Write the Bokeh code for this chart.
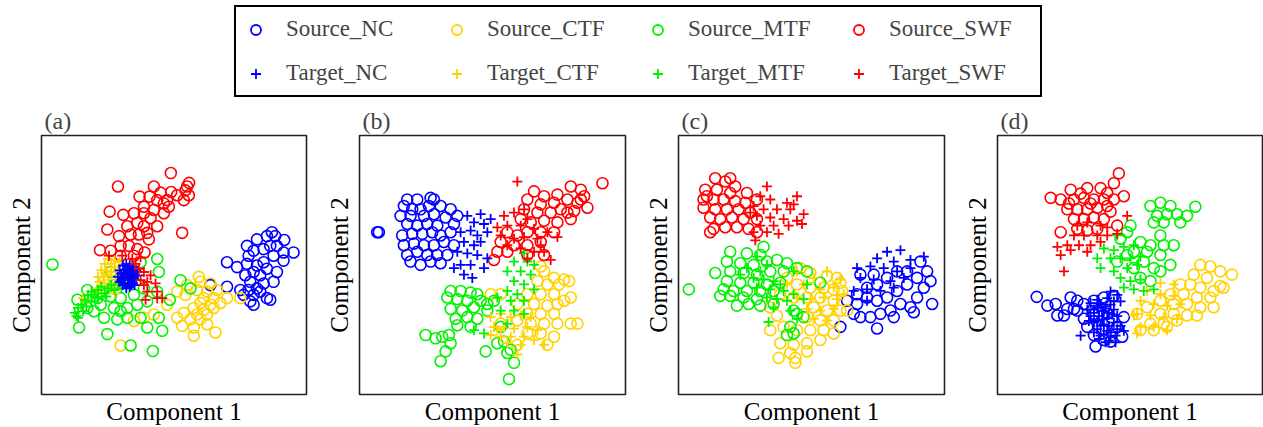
from bokeh.plotting import figure
from bokeh.layouts import column, row
from bokeh.models import Range1d, Legend, LegendItem, FixedTicker, ColumnDataSource
from bokeh.embed import file_html
from bokeh.resources import INLINE

FONT = "Liberation Serif"
CLASSES = ["NC", "CTF", "MTF", "SWF"]
COLORS = {"NC": "#0000FF", "CTF": "#FFD200", "MTF": "#00F200", "SWF": "#FF0000"}
PANEL_LABELS = ["(a)", "(b)", "(c)", "(d)"]
X_LABEL = "Component 1"
Y_LABEL = "Component 2"

# ---------------- panel (a) ----------------
A_SRC_NC = [(69.3,49.7),(67.8,48.5),(70.3,48.5),(64.8,47.5),(73,47.3),(61.8,45.5),(68.8,45.5),(70.8,45.5),
            (75.8,43.5),(72.8,43.5),(66.8,44.5),(63.8,44),(62.3,42.5),(69.8,42.5),(72.8,41),(66.8,40.5),
            (55.8,40.5),(58.8,39),(61.8,40),(64.8,39.5),(67.8,38.5),(70.8,37.5),(63.8,37.5),(61.3,36.5),
            (65.8,36.5),(69.8,34.5),(62.8,34.5),(66.8,34),(64.8,32.5),(55.8,33),(59.8,32),(62.3,32),
            (63.8,30.5),(67.8,29.5),(68.8,29),(62.8,28.5),(63.8,27.5),(65.8,31.5),(50.8,33.5),(60.8,30.5)]
A_SRC_CTF = [(47.3,36),(47.8,34.5),(50.8,34),(43.8,33.5),(40.8,31.5),(46.8,32),(49.8,31.5),(52.8,32),
             (43.3,30.5),(48.8,29.5),(51.8,29.5),(55.8,29.5),(59.8,29.5),(37.8,27.5),(47.8,28),(50.8,27.5),
             (53.8,28),(45.8,26.5),(48.8,26),(51.8,26.5),(42.8,25),(46.8,24.5),(49.8,24.5),(40.8,23.5),
             (44.8,23),(47.8,23),(42.3,21),(45.8,20.5),(49.8,21.5),(52.3,19),(45.8,18),(23.8,15),
             (27.8,22.5),(30.8,23.5),(33.8,24.5)]
A_SRC_MTF = [(3.3,39.8),(34.8,41.5),(35.3,37.5),(41.8,35),(44.8,32.5),(38.6,29),(10.8,29),(13.8,32),
             (16.8,29.5),(17.8,27.5),(21.8,26.5),(25.8,26.5),(28.8,27.5),(31.8,28.5),(15.8,25.5),(18.8,23.5),
             (22.8,23),(25.8,23.5),(29.8,23.5),(35.3,23.5),(31.8,20.5),(36.3,19.5),(11.3,20.5),(19.8,18.5),
             (26.8,15),(33.5,13.3),(17.8,31.5),(20.8,30),(23.8,29.5),(27.8,30.5),(30.8,32.5),(13.8,26.5),
             (23.8,25.5),(21.8,33.5),(29.8,40.5),(20.8,37.5),(34.8,31.5)]
A_SRC_SWF = [(38.9,67.8),(44.4,64.8),(43.8,63.7),(23,63.7),(33.8,63.7),(29.5,60.6),(32.5,60.6),(35.8,61.8),
             (39,62),(40.8,61),(43.3,62.5),(44.3,61),(37.8,59.5),(36.8,58.5),(34.8,59.5),(30.8,57.5),
             (42.8,59.5),(20.5,56),(24.6,55),(27.8,55.5),(30.8,55.5),(33.8,56.5),(36.8,55.5),(38.3,57.5),
             (32.8,54),(28.8,52.5),(25.8,51.5),(19.8,50.5),(30.8,51.5),(34.8,51.5),(23.3,48.5),(26.8,49),
             (29.3,49),(31.8,49.5),(42.3,49.5),(32.3,47.5),(23.8,45.5),(26.3,45.5),(17.6,44.2),(20.8,44),
             (28.8,44.5),(31,43.5),(23.8,42.5),(27.8,42.5)]
A_TGT_NC = [(23.5,38),(24.5,39.5),(25.5,40),(26.5,39.5),(27.5,39),(28.5,38),(29,36.5),(28.5,35),
            (27.5,34),(26.5,33),(25.5,32.5),(24.5,33.5),(23.5,34.5),(23,36),(24,37),(25,38),
            (26,37.5),(27,37),(28,36.5),(27,35.5),(26,35),(25,35.5),(24.5,36),(25.5,36.5),
            (26.5,36),(27.5,36),(26,34),(25,34),(27,33.5),(28,33.5),(24,35),(26,38.5),
            (27.5,38),(25,37),(26.5,37)]
A_TGT_CTF = [(17,36),(18,38),(19,40),(20,41.5),(21,40),(22,39),(23,38),(22.5,36),(21,35),(20,36.5),
             (19,34),(18,32),(20,33),(21.5,32.5),(23,33.5),(22,41),(19.5,38),(21,37.5),(17.5,34.5),
             (23.5,40.5),(18.5,36),(22,31),(16.8,32.5),(12.5,29.5)]
A_TGT_MTF = [(10,25),(11,26.5),(12,27.5),(10.5,24),(13,29),(14,30.5),(15,31.5),(16,30),(17,32),(18,33),
             (19,31),(20,32.5),(21,33.5),(22,32),(15,28.5),(17,29.5),(12.5,25.5),(13.5,27),(19.5,30),
             (23,34),(24,32.5),(25.5,33),(11,23.5)]
A_TGT_SWF = [(20.3,42.5),(24.3,42.5),(27.3,41.5),(29.8,42),(28.3,40),(30.8,37.5),(29.8,35),(31.8,34.5),
             (34.3,34),(30.8,33.5),(34.8,31.5),(36.3,29.5),(31.8,31.5),(34.8,29.5),(31.3,29),(32.8,36.5),
             (29.3,38.5)]

# ---------------- panel (b) ----------------
B_SRC_NC = [(14.3,59.7),(17.3,59.7),(21.3,60.2),(22.3,59.7),(13.3,57.7),(15.8,56.7),(18.3,56.7),(20.8,57.7),
            (24.3,57.7),(27.3,56.7),(29.3,54.7),(12.3,54.7),(15.3,54.7),(19.3,54.7),(22.3,55.2),(25.8,54.2),
            (14.3,52.2),(17.3,51.7),(20.3,52.2),(23.3,51.7),(28.3,52.2),(12.8,48.7),(15.8,49.2),(18.8,49.2),
            (21.8,49.7),(24.3,48.7),(27.3,49.7),(13.3,45.7),(16.3,46.2),(19.3,45.7),(22.3,45.7),(25.3,46.7),
            (28.3,45.7),(14.3,42.7),(17.3,43.7),(20.3,42.7),(23.3,42.7),(26.3,42.7),(15.3,40.7),(18.3,39.7),
            (21.3,40.7),(24.3,40.2),(5.3,49.7),(5.8,49.7)]
B_SRC_CTF = [(54.3,39.2),(55.3,37.7),(58.3,35.7),(61.3,35.2),(62.8,34.7),(53.3,34.7),(56.3,33.7),(59.8,33.7),
             (63.3,29.7),(39.3,30.7),(42.3,30.7),(50.3,30.7),(54.3,30.7),(58.3,30.7),(61.3,28.7),(47.3,27.7),
             (52.3,27.7),(56.3,27.2),(59.3,27.7),(50.3,24.7),(54.3,24.7),(58.3,24.7),(47.3,22.7),(51.3,21.7),
             (55.3,21.7),(59.3,21.7),(63.3,21.7),(65.3,21.7),(50.3,18.7),(54.3,18.7),(58.3,17.7),(56.3,15.2),
             (47.3,15.2),(42.3,21.7)]
B_SRC_MTF = [(27.3,31.7),(30.3,31.7),(33.3,31.2),(35.3,30.7),(26.3,29.7),(29.3,29.2),(32.3,28.7),(36.3,28.7),
             (38.3,27.7),(27.3,26.2),(30.8,25.7),(34.3,26.7),(38.3,25.7),(28.8,23.2),(32.3,23.7),(35.3,23.2),
             (29.3,21.2),(33.3,20.7),(19.8,18.2),(22.8,17.2),(24.8,17.7),(26.8,18.2),(27.3,15.7),(25.8,13.2),
             (24.3,10.2),(37.8,13.2),(43.3,16.2),(45.3,13.7),(44.3,12.7),(46.3,9.7),(44.8,4.7),(41.3,15.7),
             (40.3,28.7),(42.3,20.7)]
B_SRC_SWF = [(72.8,64.7),(52.3,62.2),(55.3,60.7),(59.3,61.2),(63.3,63.7),(66.3,62.7),(67.3,60.7),(50.3,59.7),
             (54.3,58.2),(58.3,58.7),(62.3,59.7),(65.3,58.7),(68.3,57.2),(49.3,56.7),(53.3,55.7),(57.3,55.7),
             (60.3,56.7),(64.3,56.2),(48.3,53.7),(51.3,52.7),(55.3,53.2),(59.3,52.7),(63.3,53.7),(44.3,49.7),
             (47.3,48.7),(50.3,49.7),(54.3,49.7),(58.3,49.7),(42.3,46.7),(46.3,45.7),(50.3,45.7),(54.3,46.7),
             (41.3,43.7),(44.3,43.7),(50.3,42.7),(55.3,42.7),(40.3,41.2),(66.3,59.7),(62.3,55.7)]
B_TGT_NC = [(32.3,54.7),(36.3,55.2),(39.3,53.7),(34.3,52.7),(37.3,52.2),(30.3,49.7),(33.3,50.2),(35.3,48.7),
            (38.3,49.7),(31.3,46.7),(34.3,45.7),(36.3,46.7),(29.3,43.7),(32.3,43.2),(35.3,42.7),(38.3,41.7),
            (30.3,39.7),(33.3,39.7),(37.3,38.7),(31.3,36.7),(33.8,35.7),(28.3,38.7)]
B_TGT_CTF = [(39.3,23.7),(42.3,24.7),(45.3,23.7),(48.3,24.2),(51.3,23.7),(40.3,20.7),(43.3,20.7),(46.3,20.2),
             (50.3,20.7),(53.3,19.7),(39.3,18.2),(42.3,17.7),(45.3,17.7),(49.3,17.7),(52.3,16.7),(55.3,15.2),
             (44.3,15.7),(48.3,15.2),(47.3,12.2),(41.3,19.7)]
B_TGT_MTF = [(49.3,43.2),(46.3,40.7),(50.3,40.7),(52.3,39.7),(44.3,37.7),(48.3,37.7),(51.3,36.7),(46.3,34.7),
             (49.3,33.7),(52.3,32.2),(44.3,31.7),(47.3,30.7),(41.3,29.7),(45.3,28.7),(49.3,28.7),(42.3,25.7),
             (46.3,25.7),(37.3,18.7),(34.3,19.7),(44.3,21.7),(49.3,24.7)]
B_TGT_SWF = [(47.3,65.2),(43.3,54.7),(46.3,55.7),(49.3,56.7),(50.3,53.7),(41.3,51.2),(44.3,51.7),(48.3,51.7),
             (52.3,50.7),(56.3,49.7),(59.3,48.2),(42.3,48.7),(46.3,47.7),(49.3,48.2),(53.3,47.7),(44.3,45.7),
             (48.3,44.7),(52.3,43.7),(55.3,43.7),(57.3,41.2),(50.3,41.7),(54.3,45.7)]

# ---------------- panel (c) ----------------
C_SRC_NC = [(72.5,40.7),(74.5,37.7),(75.5,34.7),(73.5,32.7),(71.5,29.7),(76,27.7),(69.5,26.7),(66.5,27.7),
            (63.5,25.7),(60.5,24.7),(57.5,23.7),(54.5,23.7),(52.5,24.7),(53.5,27.7),(56.5,29.7),(59.5,28.7),
            (62.5,29.7),(65.5,31.7),(68.5,33.7),(71.5,35.7),(68.5,37.7),(65.5,37.7),(62.5,35.7),(59.5,33.7),
            (56.5,32.7),(53.5,30.7),(50.5,28.7),(59.5,20.2),(48.5,20.7),(64.5,23.7),(70.5,25.2),(54.5,36.7),
            (58.5,36.7)]
C_SRC_CTF = [(36.5,38.7),(39.5,37.2),(44.5,36.2),(47.5,35.7),(48.5,34.2),(32.5,35.7),(35.5,33.7),(39.5,32.7),
             (43.5,32.7),(46.5,32.2),(49,31.7),(30.5,30.7),(34.5,29.7),(38.5,29.7),(42.5,29.7),(46.5,28.7),
             (40.5,26.7),(44.5,25.7),(48.5,25.7),(50.5,25.7),(27.5,26.7),(29.5,24.2),(38.5,23.7),(42.5,22.7),
             (46.5,22.7),(27.5,19.7),(31.5,20.7),(35.5,19.7),(39.5,19.7),(43.5,19.7),(30.5,15.7),(34.5,15.2),
             (38.5,15.7),(42.5,16.7),(46.5,18.7),(30,11.2),(35,11.2),(35,9.7),(38.5,13.2),(33.5,12.7)]
C_SRC_MTF = [(25.5,45.2),(15.5,43.7),(20.5,43.2),(24.5,42.7),(14.5,40.7),(18.5,40.2),(22.5,39.7),(26.5,40.7),
             (29.5,41.2),(32.5,40.2),(11,37.2),(15.5,37.7),(19.5,37.2),(23.5,36.7),(27.5,37.7),(31.5,37.7),
             (35.5,38.7),(38.5,37.7),(14.5,34.7),(18.5,34.2),(22.5,34.2),(26.5,33.7),(30.5,34.2),(3.1,32.2),
             (13.5,32.2),(16.5,31.7),(20.5,31.7),(24.5,31.7),(28.5,31.7),(12.5,30.2),(15.5,30.2),(19.5,29.7),
             (23.5,29.2),(17.5,27.2),(21,27.7),(24.5,27.2),(28.5,27.7),(34.5,25.7),(35.5,24.7),(33.5,20.7),
             (32.5,18.2),(34.5,18.7),(42.5,34.2),(37.5,23.7)]
C_SRC_SWF = [(11,66.2),(14,65.2),(17,63.7),(8,62.7),(11.5,62.7),(15.5,61.7),(20.5,61.7),(7.5,59.7),
             (10.5,59.7),(13.5,59.7),(17,59.2),(20,58.7),(23.5,59.7),(7.5,57.2),(11,56.7),(14.5,56.7),
             (18,56.7),(21.5,55.7),(9.5,54.2),(12.5,53.7),(16,54.2),(19.5,53.7),(23.5,53.7),(10.5,50.7),
             (14,51.2),(17.5,51.2),(21,50.7),(9.5,49.7),(23.5,49.7),(8.5,60.7),(15.5,66.2)]
C_TGT_NC = [(62.5,43.7),(66.5,44.2),(73.5,42.2),(59.5,41.7),(64.5,40.7),(69.5,41.2),(53.5,38.7),(57.5,39.2),
            (61.5,38.7),(65.5,37.7),(69.5,38.7),(54.5,35.7),(58.5,35.2),(63.5,34.7),(67.5,35.7),(52.5,31.7),
            (56.5,32.2),(60.5,31.7),(64.5,32.7),(56.5,28.7)]
C_TGT_CTF = [(35.5,37.7),(44.5,37.7),(40.5,35.7),(48.5,35.2),(37.5,33.7),(42.5,32.2),(46.5,32.7),(35.5,29.7),
             (39.5,29.2),(43.5,29.7),(47.5,29.2),(38.5,26.2),(42.5,25.7),(46.5,26.2),(40.5,23.2),(44.5,22.7),
             (32.5,33.7),(49.5,30.7)]
C_TGT_MTF = [(23.5,42.2),(26.5,39.7),(20.5,38.7),(24.5,37.7),(18.5,36.7),(22.5,35.7),(25.5,35.2),(28.5,34.7),
             (30.5,33.7),(23.5,32.7),(27.5,32.2),(31.5,31.7),(34.5,30.7),(26.5,29.7),(29.5,29.2),(32.5,28.7),
             (28.5,26.7),(33.5,25.7),(37.5,29.2),(38.5,33.7),(34.5,37.7),(27,22.2),(35.5,23.2)]
C_TGT_SWF = [(26.5,63.7),(35.5,60.7),(24.5,60.7),(27.5,59.7),(32.5,58.7),(22.5,57.7),(25.5,56.7),(29.5,56.7),
             (33.5,56.7),(37.5,55.2),(23.5,54.7),(27.5,54.2),(31.5,53.7),(35.5,53.2),(24.5,51.7),(28.5,51.7),
             (33,51.7),(37,52.2),(22.5,49.7),(26.5,49.7),(30,49.2),(23,47.2),(21.5,55.7),(34.5,58.2)]

# ---------------- panel (d) ----------------
D_SRC_NC = [(11.8,29.9),(15,27.2),(17.5,27.7),(22,29.7),(24,28.7),(18,24.2),(20,24.2),(23,26.2),
            (26,27.7),(29,28.7),(32,29.7),(35,30.2),(26,23.2),(29,24.7),(33,24.7),(38,23.7),
            (27,20.7),(36,20.7),(29,18.2),(32,16.7),(37.5,17.7),(34,16.2),(29.5,14.7),(24,25.7),(21,26.2)]
D_SRC_CTF = [(61,39.7),(64,39.2),(67,37.7),(70.5,36.7),(59,36.7),(63,35.7),(67,33.2),(58,33.7),
             (55,33.7),(61,32.7),(65,31.7),(68,32.7),(52,30.7),(56,30.7),(60,29.7),(64,29.7),
             (49,28.7),(53,27.7),(57,27.7),(61,26.7),(65,26.7),(45,26.7),(49,24.7),(53,24.7),
             (57,24.2),(60,24.2),(46,21.7),(50,21.7),(54,22.7),(43,19.7),(47,19.7),(51,20.7),(42,24.7)]
D_SRC_MTF = [(49,58.7),(46,57.7),(52,57.7),(59.5,57.5),(48,54.7),(51,55.2),(54,55.2),(57,54.7),
             (47,52.7),(50,52.7),(55,52.7),(40,51.7),(49,48.7),(39,49.7),(37,47.7),(43,46.7),
             (46,45.7),(50,45.7),(53,45.7),(41,43.7),(45,43.7),(49,42.7),(52,39.7),(39,42.7),
             (44,40.7),(47,38.7),(36,40.7),(41,38.7),(49,37.7),(43,35.7),(46,34.7)]
D_SRC_SWF = [(36.5,67.7),(35,64.7),(22,62.7),(27,63.2),(31,63.2),(33,61.7),(38,60.7),(16,60.2),
             (19,59.7),(23,59.7),(26,60.2),(29,59.7),(32,59.7),(35,59.7),(21,56.7),(24,56.7),
             (27,56.7),(30,57.2),(33,57.7),(23,53.7),(26,53.7),(29,54.2),(32,53.7),(19,49.7),
             (24,50.7),(27,50.2),(30,50.7),(36,51.7),(25,61.5),(34,56),(28,58.5),(21.5,58.5)]
D_TGT_NC = [(34,31.5),(36,30.5),(33,29.5),(30,29),(28,28),(31,27.5),(34,27.5),(37,28.5),(27,26),(29,26),
            (32,25.5),(35,26),(28,24),(30.5,24),(33,23.5),(36,24),(29,22),(32,21.5),(35,22),(30,20),
            (33,19.5),(36,20),(31,18),(34,17.5),(32.5,16),(35.5,16),(25,18),(37,21),(27.5,22.5),(30,26.5),
            (31.5,23),(33.5,25),(29,19),(38,19.5),(30.5,28),(32.5,27),(35,28.5),(29,25),(31.5,25.5),
            (34.5,24.5),(30,22.5),(33.5,21),(31,21),(34,19),(32,18.5),(30.5,17),(33.5,16.5),(35.5,18)]
D_TGT_CTF = [(49,34.2),(53,33.7),(45,31.7),(49,30.7),(53,30.2),(43,28.7),(47,27.7),(51,27.2),(55,27.7),
             (42,24.7),(46,24.2),(50,23.7),(54,23.2),(43,20.7),(47,20.7),(42,18.7),(51,19.7),(41,24.2)]
D_TGT_MTF = [(36,48.7),(32,44.7),(35,44.2),(38,45.2),(41,45.7),(30,41.7),(34,41.7),(37,41.7),(40,41.7),
             (43,42.2),(31,38.7),(35,37.7),(39,38.7),(42,39.7),(37,35.7),(40,34.7),(43,35.2),(41,32.2),
             (44,31.7),(47,32.2),(38,32.7)]
D_TGT_SWF = [(39,54.7),(24,51.7),(27,52.7),(31,51.7),(23,48.7),(26,48.7),(30,48.7),(33,48.7),(36,49.2),
             (21,45.7),(24.5,45.7),(28,45.7),(31,46.7),(18,45.2),(19,42.7),(22,44.2),(27,43.7),(20,37.7),
             (33,51.2)]

PANELS = [
    ({"NC": A_SRC_NC, "CTF": A_SRC_CTF, "MTF": A_SRC_MTF, "SWF": A_SRC_SWF},
     {"NC": A_TGT_NC, "CTF": A_TGT_CTF, "MTF": A_TGT_MTF, "SWF": A_TGT_SWF}),
    ({"NC": B_SRC_NC, "CTF": B_SRC_CTF, "MTF": B_SRC_MTF, "SWF": B_SRC_SWF},
     {"NC": B_TGT_NC, "CTF": B_TGT_CTF, "MTF": B_TGT_MTF, "SWF": B_TGT_SWF}),
    ({"NC": C_SRC_NC, "CTF": C_SRC_CTF, "MTF": C_SRC_MTF, "SWF": C_SRC_SWF},
     {"NC": C_TGT_NC, "CTF": C_TGT_CTF, "MTF": C_TGT_MTF, "SWF": C_TGT_SWF}),
    ({"NC": D_SRC_NC, "CTF": D_SRC_CTF, "MTF": D_SRC_MTF, "SWF": D_SRC_SWF},
     {"NC": D_TGT_NC, "CTF": D_TGT_CTF, "MTF": D_TGT_MTF, "SWF": D_TGT_SWF}),
]

CIRCLE_SIZE = 11
CROSS_SIZE = 10
TARGET_ORDER = ["CTF", "MTF", "NC", "SWF"]

# layout: (left border, frame width, right border)
GEOM = [(41, 265, 12), (41, 266, 12), (41, 266, 12), (41, 265, 1)]


def src_of(pts):
    return ColumnDataSource(data=dict(x=[p[0] for p in pts], y=[p[1] for p in pts]))


def make_panel(label, src, tgt, geom):
    lb, fw, rb = geom
    p = figure(width=lb + fw + rb, height=327, x_range=Range1d(0, 79.7), y_range=Range1d(0, 79.3),
               output_backend="svg", toolbar_location=None,
               min_border_left=lb, min_border_right=rb, min_border_top=35, min_border_bottom=29,
               title=label)
    p.grid.visible = False
    p.outline_line_color = "#222222"
    p.outline_line_width = 1.6
    p.background_fill_color = "white"
    p.border_fill_color = "white"
    p.title.text_font = FONT
    p.title.text_font_size = "24px"
    p.title.text_font_style = "normal"
    p.title.align = "left"
    p.title.offset = 3
    p.title.standoff = 3
    p.xaxis.axis_label = X_LABEL
    p.yaxis.axis_label = Y_LABEL
    for ax in (p.xaxis[0], p.yaxis[0]):
        ax.ticker = FixedTicker(ticks=[])
        ax.axis_line_color = None
        ax.major_tick_line_color = None
        ax.minor_tick_line_color = None
        ax.major_tick_out = 0
        ax.major_label_standoff = 0
        ax.major_label_text_font_size = "0px"
        ax.axis_label_text_font = FONT
        ax.axis_label_text_font_size = "25px"
        ax.axis_label_text_font_style = "normal"
        ax.axis_label_text_color = "black"
    p.xaxis.axis_label_standoff = 3
    p.yaxis.axis_label_standoff = 7
    for c in CLASSES:
        p.scatter("x", "y", source=src_of(src[c]), marker="circle", size=CIRCLE_SIZE,
                  fill_color=None, line_color=COLORS[c], line_width=1.6)
    for c in TARGET_ORDER:
        p.scatter("x", "y", source=src_of(tgt[c]), marker="cross", size=CROSS_SIZE,
                  line_color=COLORS[c], line_width=1.8)
    return p


panels = [make_panel(PANEL_LABELS[i], PANELS[i][0], PANELS[i][1], GEOM[i]) for i in range(4)]

# legend strip (proxy glyphs sit outside the visible range; only the legend is seen)
lg = figure(width=1263, height=100, x_range=Range1d(0, 1), y_range=Range1d(0, 1),
            output_backend="svg", toolbar_location=None, min_border=0)
lg.axis.visible = False
lg.grid.visible = False
lg.outline_line_color = None
PROXY = dict(x=[-5], y=[-5])
items = []
for c in CLASSES:
    r = lg.scatter(x=PROXY["x"], y=PROXY["y"], marker="circle", size=CIRCLE_SIZE, fill_color=None,
                   line_color=COLORS[c], line_width=1.8)
    items.append(LegendItem(label="Source_" + c, renderers=[r]))
for c in CLASSES:
    r = lg.scatter(x=PROXY["x"], y=PROXY["y"], marker="cross", size=CROSS_SIZE,
                   line_color=COLORS[c], line_width=1.8)
    items.append(LegendItem(label="Target_" + c, renderers=[r]))

legend = Legend(items=items, location=(234, 3), orientation="horizontal", ncols=4,
                label_text_font=FONT, label_text_font_size="23px",
                glyph_width=25, glyph_height=25, label_standoff=18, label_width=144, label_height=30,
                spacing=14, padding=7, margin=0,
                border_line_color="black", border_line_width=2, border_line_alpha=1.0,
                background_fill_color="white", background_fill_alpha=1.0)
lg.add_layout(legend, "center")

layout = column(lg, row(*panels, spacing=0), spacing=0)

open("out.html", "w").write(file_html(layout, INLINE))
